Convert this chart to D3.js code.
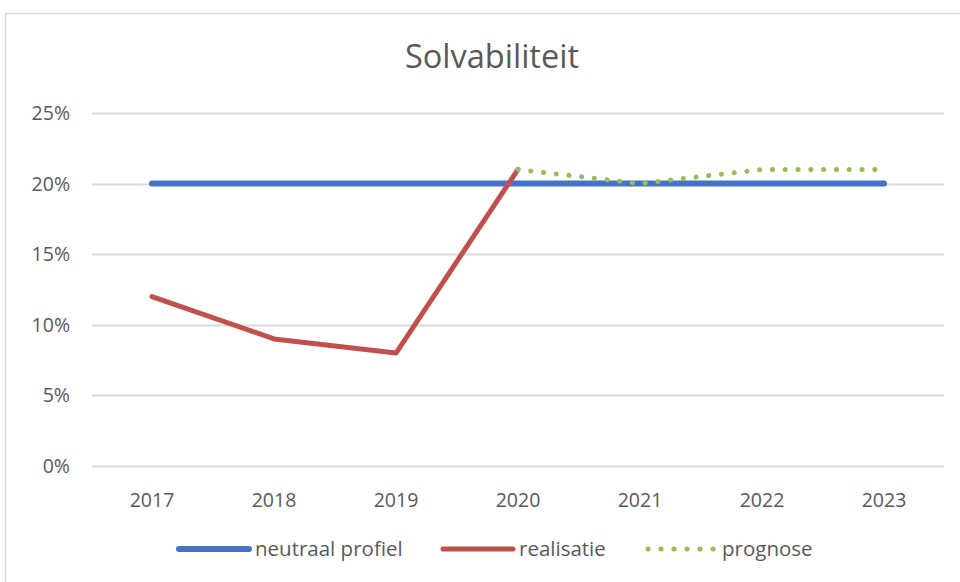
<!DOCTYPE html>
<html>
<head>
<meta charset="utf-8">
<script src="https://cdn.jsdelivr.net/npm/d3@7"></script>
<style>
  body { margin: 0; background: #fff; }
  text { font-family: "Open Sans", "Noto Sans", sans-serif; fill: #595959; }
</style>
</head>
<body>
<script>
// chart data
const years = ['2017', '2018', '2019', '2020', '2021', '2022', '2023'];
const neutraal = [0.20, 0.20, 0.20, 0.20, 0.20, 0.20, 0.20];
const realisatie = [0.12, 0.09, 0.08, 0.21, null, null, null];
const prognose = [null, null, null, 0.21, 0.20, 0.21, 0.21];
const yTicks = [0, 0.05, 0.10, 0.15, 0.20, 0.25];

const width = 960;
const height = 582;

const svg = d3.select('body')
  .append('svg')
  .attr('width', width)
  .attr('height', height);

// chart border (runs off the right and bottom edge)
svg.append('rect')
  .attr('x', 5.5)
  .attr('y', 13.5)
  .attr('width', 980)
  .attr('height', 600)
  .attr('fill', 'none')
  .attr('stroke', '#d9d9d9')
  .attr('stroke-width', 1.5);

const x = d3.scalePoint()
  .domain(years)
  .range([91, 945])
  .padding(0.5);

const y = d3.scaleLinear()
  .domain([0, 0.25])
  .range([466, 113]);

// title
svg.append('text')
  .attr('x', 492)
  .attr('y', 68)
  .attr('text-anchor', 'middle')
  .attr('font-size', 32.5)
  .text('Solvabiliteit');

// gridlines
svg.selectAll('line.grid')
  .data(yTicks)
  .enter()
  .append('line')
  .attr('class', 'grid')
  .attr('x1', 92)
  .attr('x2', 944)
  .attr('y1', d => Math.round(y(d)) + 0.5)
  .attr('y2', d => Math.round(y(d)) + 0.5)
  .attr('stroke', '#d9d9d9')
  .attr('stroke-width', 2);

// y labels
svg.selectAll('text.ylab')
  .data(yTicks)
  .enter()
  .append('text')
  .attr('class', 'ylab')
  .attr('x', 70)
  .attr('y', d => y(d))
  .attr('dy', '0.36em')
  .attr('text-anchor', 'end')
  .attr('font-size', 19.5)
  .text(d => d3.format('.0%')(d));

// x labels
svg.selectAll('text.xlab')
  .data(years)
  .enter()
  .append('text')
  .attr('class', 'xlab')
  .attr('x', d => x(d))
  .attr('y', 500)
  .attr('dy', '0.36em')
  .attr('text-anchor', 'middle')
  .attr('font-size', 19.5)
  .text(d => d);

const line = d3.line()
  .defined(d => d.v !== null)
  .x(d => x(d.year))
  .y(d => y(d.v));

const toPoints = vals => years.map((year, i) => ({ year, v: vals[i] }));

const series = [
  { name: 'neutraal profiel', values: neutraal, color: '#4472c4', width: 6, dash: null },
  { name: 'realisatie', values: realisatie, color: '#c0504d', width: 5, dash: null },
  { name: 'prognose', values: prognose, color: '#9bbb59', width: 5, dash: '0.1 12.7' }
];

series.forEach(s => {
  svg.append('path')
    .datum(toPoints(s.values))
    .attr('d', line)
    .attr('fill', 'none')
    .attr('stroke', s.color)
    .attr('stroke-width', s.width)
    .attr('stroke-linecap', 'round')
    .attr('stroke-linejoin', 'round')
    .attr('stroke-dasharray', s.dash);
});

// legend
const legendX = [179, 443, 648];
const legend = svg.selectAll('g.legend')
  .data(series)
  .enter()
  .append('g')
  .attr('class', 'legend')
  .attr('transform', (d, i) => `translate(${legendX[i]}, 549)`);

legend.append('line')
  .attr('x1', 0)
  .attr('x2', (d, i) => i === 2 ? 65.1 : 70)
  .attr('y1', 0)
  .attr('y2', 0)
  .attr('stroke', d => d.color)
  .attr('stroke-width', d => d.width)
  .attr('stroke-linecap', 'round')
  .attr('stroke-dasharray', d => d.dash ? '0.1 12.9' : null);

legend.append('text')
  .attr('x', (d, i) => i === 2 ? 74 : 76)
  .attr('y', 0)
  .attr('dy', '0.33em')
  .attr('font-size', 20.5)
  .text(d => d.name);
</script>
</body>
</html>
